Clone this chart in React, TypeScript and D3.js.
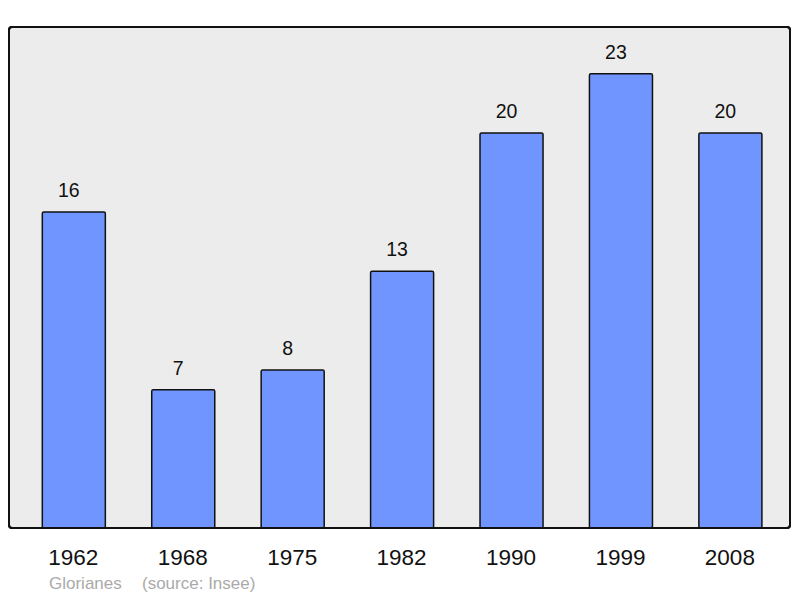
import React from "react";
import * as d3 from "d3";

const years = ["1962", "1968", "1975", "1982", "1990", "1999", "2008"];
const values = [16, 7, 8, 13, 20, 23, 20];
const townName = "Glorianes";
const sourceText = "(source: Insee)";

export default function App() {
  const W = 800, H = 598;
  const panel = { x: 9, y: 27, w: 781, h: 501 };
  const baseline = panel.y + panel.h;
  const y = d3.scaleLinear().domain([0, 501 / 19.75]).range([baseline, panel.y]);
  const x = d3
    .scaleBand<string>()
    .domain(years)
    .range([11.5, 792.7])
    .paddingInner(0.424)
    .paddingOuter(0.2815);
  const font = "'Liberation Sans', Arial, sans-serif";
  return (
    <svg width={W} height={H} style={{ position: "absolute", left: 0, top: 0 }} fontFamily={font}>
      <rect x={0} y={0} width={W} height={H} fill="#ffffff" />
      <rect x={panel.x} y={panel.y} width={panel.w} height={panel.h} rx={3} fill="#ececec" stroke="#111" strokeWidth={2} />
      {years.map((yr, i) => {
        const bx = x(yr)!;
        const bw = x.bandwidth();
        const top = y(values[i]);
        return (
          <g key={yr}>
            <rect x={bx} y={top} width={bw} height={baseline - top} rx={1.5} fill="#7095ff" stroke="#111" strokeWidth={1.5} />
            <text x={bx + bw / 2 - 5} y={top - 15} textAnchor="middle" fontSize={19.5} fill="#111">{values[i]}</text>
            <text x={bx + bw / 2 - 0.5} y={565} textAnchor="middle" fontSize={22.5} fill="#111">{yr}</text>
          </g>
        );
      })}
      <rect x={panel.x} y={panel.y} width={panel.w} height={panel.h} rx={3} fill="none" stroke="#111" strokeWidth={2} />
      <text x={49} y={589} fontSize={17} fill="#aaaaaa">{townName}</text>
      <text x={142} y={589} fontSize={17} fill="#aaaaaa">{sourceText}</text>
    </svg>
  );
}
